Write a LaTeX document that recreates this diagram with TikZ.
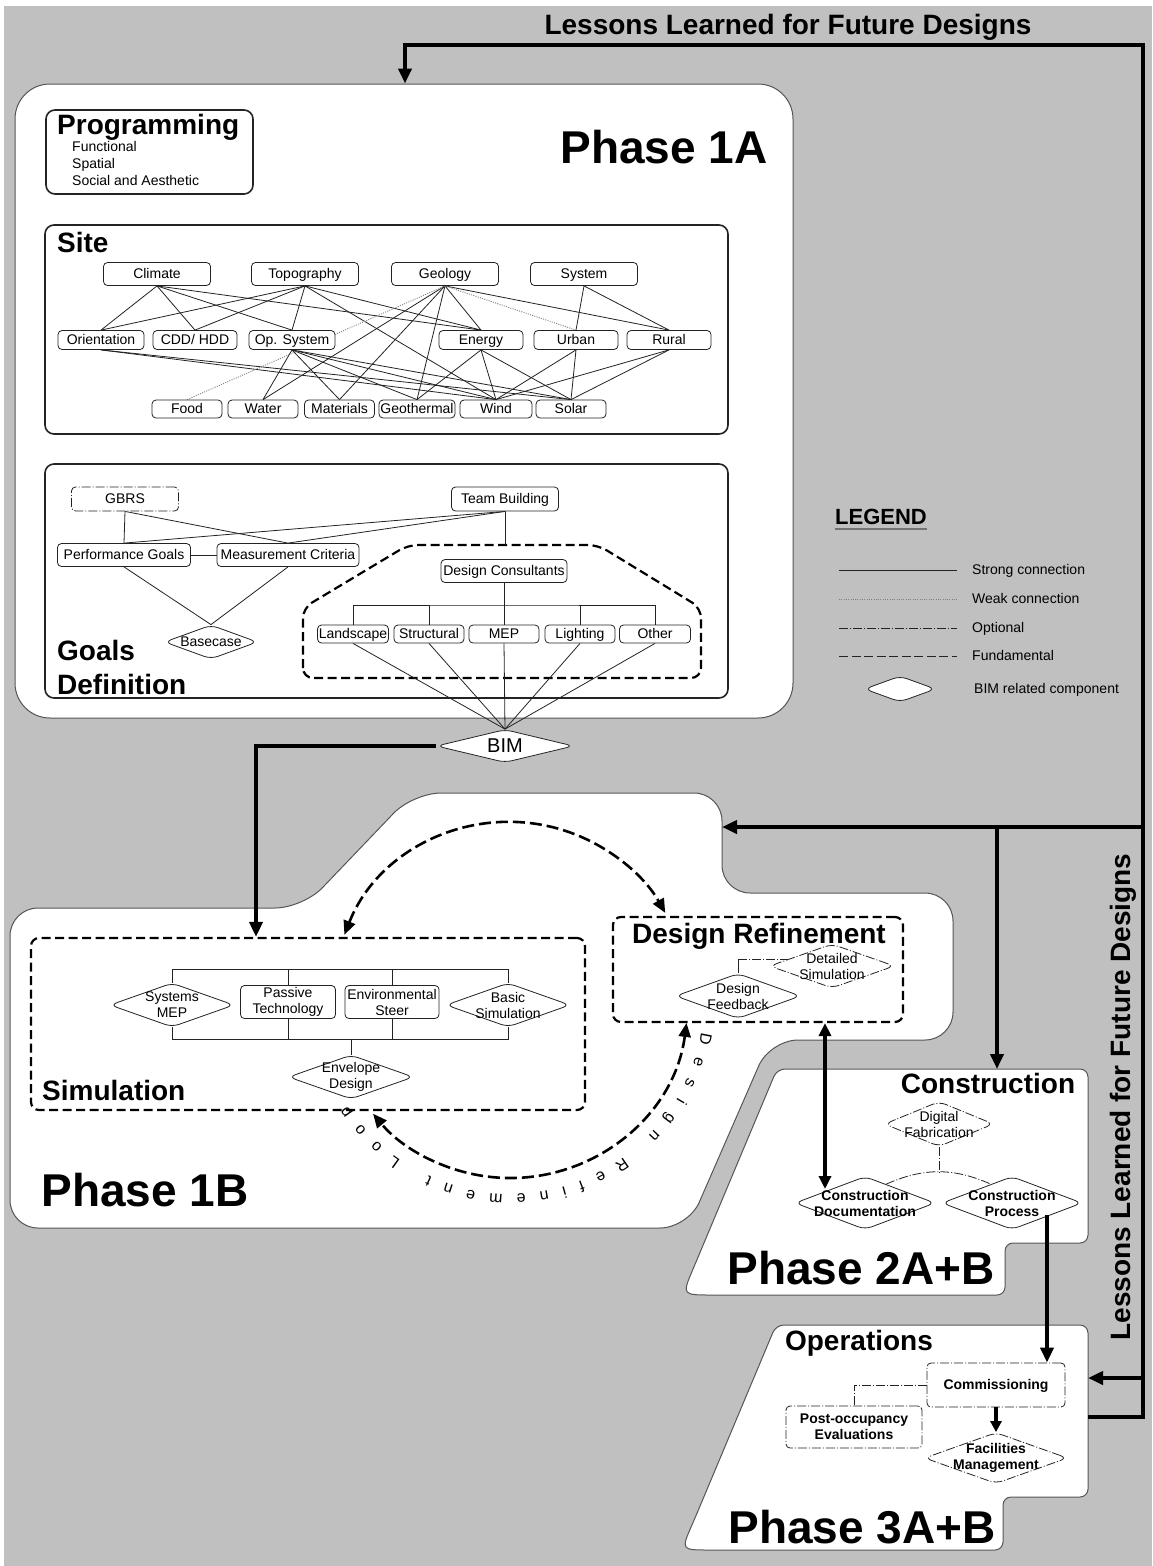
\documentclass[tikz,border=0pt]{standalone}
\usepackage{fontspec}
\setmainfont{Liberation Sans}
\usetikzlibrary{shapes.geometric, arrows.meta, calc, decorations.text}

\definecolor{bggray}{RGB}{192,192,192}
\definecolor{linecol}{RGB}{35,35,35}
\definecolor{edgecol}{RGB}{85,85,85}

\newcommand\txtsm{\fontsize{14}{16}\selectfont}
\newcommand\txtsmb{\fontsize{14}{16}\selectfont\bfseries}
\newcommand\txthead{\fontsize{28}{30}\selectfont\bfseries}
\newcommand\txtphase{\fontsize{46}{50}\selectfont\bfseries}
\newcommand\txtlessons{\fontsize{28}{30}\selectfont\bfseries}
\newcommand\txtloop{\fontsize{16}{18}\selectfont}
\newcommand\txtbim{\fontsize{20}{22}\selectfont}
\newcommand\txtleg{\fontsize{22}{24}\selectfont\bfseries}

\pgfdeclarelayer{back}
\pgfdeclarelayer{mid}
\pgfsetlayers{back,mid,main}

\begin{document}
\begin{tikzpicture}[x=1pt, y=1pt,
  conn/.style={draw=linecol, line width=0.8pt},
  weak/.style={draw=black!50, line width=0.9pt, dash pattern=on 1pt off 1.3pt},
  optional/.style={dash pattern=on 9pt off 2pt on 1pt off 2pt},
  optline/.style={conn, optional},
  fund/.style={draw=black, line width=2.2pt, dash pattern=on 9pt off 4.5pt},
  heavy/.style={draw=black, line width=4pt},
  tip/.style={-{Triangle[length=15pt,width=13pt]}},
  phase/.style={fill=white, draw=edgecol, line width=1pt},
  secbox/.style={draw=linecol, line width=1.6pt, rounded corners=9pt, fill=white},
  itembase/.style={rectangle, rounded corners=4pt, draw=linecol, line width=0.8pt,
    fill=white, inner sep=0pt, align=center, font=\txtsm},
  item/.style={itembase, text height=10pt, text depth=1pt},
  itemtwo/.style={itembase},
  hexlbl/.style={align=center, inner sep=0pt},
  hexa/.style n args={4}{diamond, draw=linecol, line width=0.8pt, fill=white,
    minimum width=#1pt, minimum height=#2pt, inner sep=0pt, rounded corners=7pt,
    label={[hexlbl, font=#4]center:#3}},
  heading/.style={font=\txthead, inner sep=0pt, text height=20pt, text depth=0pt},
  phasetitle/.style={font=\txtphase, inner sep=0pt},
  txt/.style={font=\txtsm, inner sep=0pt, anchor=west, text height=10pt, text depth=1pt},
  looparc/.style={draw=black, line width=2.6pt, dash pattern=on 12pt off 5pt,
    {Triangle[length=14pt,width=12pt]}-{Triangle[length=14pt,width=12pt]}}
]

\useasboundingbox (0,0) rectangle (1152,-1566);

% ---------------- background and phase regions ----------------
\begin{pgfonlayer}{back}
  \fill[white] (0,0) rectangle (1152,-1566);
  \fill[bggray] (4,-6) rectangle (1152,-1566);

  % Phase 1A
  \node[phase, rounded corners=35pt, minimum width=778pt, minimum height=634pt,
        inner sep=0pt] (p1a) at (404,-401) {};

  % Phase 1B
  \path[phase, rounded corners=28pt]
    (10,-1228) -- (10,-908) -- (303,-908) -- (413,-793) -- (722,-793)
    -- (722,-893) -- (953,-893) -- (953,-1040) -- (770,-1040) -- (688,-1228) -- cycle;

  % Phase 2A+B
  \path[phase, rounded corners=8pt]
    (720,-1295) .. controls (682,-1295) .. (696,-1262) -- (777,-1069)
    -- (1088,-1069) -- (1088,-1243) -- (1005,-1243) -- (1005,-1295) -- cycle;

  % Phase 3A+B
  \path[phase, rounded corners=8pt]
    (718,-1550) .. controls (681,-1550) .. (695,-1518) -- (776,-1325)
    -- (1088,-1325) -- (1088,-1497) -- (1003,-1497) -- (1003,-1550) -- cycle;

  % section boxes of Phase 1A
  \node[secbox, minimum width=207pt, minimum height=84pt, inner sep=0pt]
    (prog) at (149.5,-152) {};
  \draw[secbox] (45,-225) rectangle (728,-434);
  \draw[secbox] (45,-464) rectangle (728,-698);
\end{pgfonlayer}

% ---------------- titles ----------------
\node[font=\txtlessons, inner sep=0pt] (lessonstop) at (788,-27) {Lessons Learned for Future Designs};
\node[font=\txtlessons, inner sep=0pt, rotate=90] (lessonsside) at (1123,-1097) {Lessons Learned for Future Designs};

\node[phasetitle] (t1a) at (664,-147) {Phase 1A};
\node[phasetitle] (t1b) at (145,-1190) {Phase 1B};
\node[phasetitle] (t2) at (861,-1268) {Phase 2A+B};
\node[phasetitle] (t3) at (862,-1527) {Phase 3A+B};

% ---------------- Programming ----------------
\node[heading, anchor=west] (progt) at (57,-124) {Programming};
\node[txt] (pf) at (72,-147) {Functional};
\node[txt] (ps) at (72,-164) {Spatial};
\node[txt] (pa) at (72,-181) {Social and Aesthetic};

% ---------------- Site ----------------
\node[heading, anchor=west] (sitet) at (57,-242) {Site};

\node[item, minimum width=107pt, minimum height=23pt] (climate) at (157,-274) {Climate};
\node[item, minimum width=107pt, minimum height=23pt] (topo) at (305,-274) {Topography};
\node[item, minimum width=107pt, minimum height=23pt] (geology) at (445,-274) {Geology};
\node[item, minimum width=107pt, minimum height=23pt] (system) at (584,-274) {System};

\node[item, minimum width=86pt, minimum height=19pt] (orient) at (101,-340) {Orientation};
\node[item, minimum width=84pt, minimum height=19pt] (cdd) at (195,-340) {CDD/ HDD};
\node[item, minimum width=86pt, minimum height=19pt] (opsys) at (292,-340) {Op. System};
\node[item, minimum width=84pt, minimum height=19pt] (energy) at (481,-340) {Energy};
\node[item, minimum width=84pt, minimum height=19pt] (urban) at (576,-340) {Urban};
\node[item, minimum width=84pt, minimum height=19pt] (rural) at (669,-340) {Rural};

\node[item, minimum width=70pt, minimum height=18pt] (food) at (187,-409) {Food};
\node[item, minimum width=70pt, minimum height=18pt] (water) at (263,-409) {Water};
\node[item, minimum width=70pt, minimum height=18pt] (materials) at (339.5,-409) {Materials};
\node[item, minimum width=76pt, minimum height=18pt] (geoth) at (417,-409) {Geothermal};
\node[item, minimum width=72pt, minimum height=18pt] (wind) at (496,-409) {Wind};
\node[item, minimum width=70pt, minimum height=18pt] (solar) at (571,-409) {Solar};

\begin{pgfonlayer}{mid}
  \foreach \a/\b in {climate/orient, climate/cdd, climate/opsys, climate/energy,
      topo/orient, topo/cdd, topo/opsys, topo/energy, topo/wind,
      geology/water, geology/materials, geology/geoth, geology/energy, geology/rural,
      system/urban, system/rural,
      orient/wind, orient/solar,
      opsys/water, opsys/materials, opsys/geoth, opsys/wind, opsys/solar,
      energy/geoth, energy/wind, energy/solar,
      urban/wind, urban/solar, rural/wind, rural/solar}
    \draw[conn] (\a.south) -- (\b.north);
  \draw[weak] (geology.south) -- (food.north);
  \draw[weak] (geology.south) -- (urban.north);
\end{pgfonlayer}

% ---------------- Goals Definition ----------------
\node[heading, anchor=west] (goalst) at (57,-650) {Goals};
\node[heading, anchor=west] (deft) at (57,-684) {Definition};

\node[item, optional, minimum width=107pt, minimum height=24pt] (gbrs) at (125,-499) {GBRS};
\node[item, minimum width=107pt, minimum height=24pt] (team) at (505,-499) {Team Building};
\node[item, minimum width=133pt, minimum height=23pt] (perf) at (124,-555) {Performance Goals};
\node[item, minimum width=142pt, minimum height=23pt] (meas) at (288,-555) {Measurement Criteria};
\node[hexa={93}{34}{Basecase}{\txtsm}] (basecase) at (211,-642) {};
\node[item, minimum width=126pt, minimum height=23pt] (consult) at (504,-571) {Design Consultants};
\node[item, minimum width=71pt, minimum height=18pt] (land) at (353,-634) {Landscape};
\node[item, minimum width=70pt, minimum height=18pt] (struct) at (429,-634) {Structural};
\node[item, minimum width=70pt, minimum height=18pt] (mep) at (504,-634) {MEP};
\node[item, minimum width=70pt, minimum height=18pt] (light) at (580,-634) {Lighting};
\node[item, minimum width=71pt, minimum height=18pt] (other) at (655,-634) {Other};

\node[hexa={137}{33}{BIM}{\txtbim}] (bim) at (505,-746) {};

\coordinate (fundtop) at (505,-545);
\coordinate (cbar) at (504,-605);
\begin{pgfonlayer}{mid}
  \draw[fund, rounded corners=10pt] (303,-678) -- (303,-608) -- (408,-545)
    -- (598,-545) -- (701,-608) -- (701,-678) -- cycle;
  \draw[conn] (gbrs.south) -- (perf.north);
  \draw[conn] (gbrs.south) -- (meas.north);
  \draw[conn] (team.south) -- (perf.north);
  \draw[conn] (team.south) -- (meas.north);
  \draw[conn] (perf.east) -- (meas.west);
  \draw[conn] (perf.south) -- (basecase.north);
  \draw[conn] (meas.south) -- (basecase.north);
  \draw[conn] (team.south) -- (fundtop);
  \draw[conn] (consult.south) -- (mep.north);
  \draw[conn] (land.north) |- (cbar) -| (other.north);
  \draw[conn] (struct.north) -- (struct.north |- cbar);
  \draw[conn] (light.north) -- (light.north |- cbar);
  \foreach \a in {land, struct, mep, light, other}
    \draw[conn] (\a.south) -- (bim.north);
\end{pgfonlayer}

% ---------------- Simulation ----------------
\node[fund, rectangle, rounded corners=8pt, minimum width=554pt, minimum height=172pt,
      inner sep=0pt] (sim) at (308,-1024) {};
\node[heading, anchor=west] (simt) at (42,-1090) {Simulation};

\node[hexa={124}{44}{Systems\\MEP}{\txtsm}] (sysmep) at (172,-1005) {};
\node[itemtwo, minimum width=95pt, minimum height=33pt] (passive) at (288,-1002) {Passive\\Technology};
\node[itemtwo, minimum width=94pt, minimum height=33pt] (envsteer) at (392,-1002) {Environmental\\Steer};
\node[hexa={124}{44}{Basic\\Simulation}{\txtsm}] (basicsim) at (508,-1005) {};
\node[hexa={125}{44}{Envelope\\Design}{\txtsm}] (envelope) at (351,-1077) {};

\coordinate (sbt) at (340,-969);
\coordinate (sbb) at (351,-1039);
\begin{pgfonlayer}{mid}
  \draw[conn] (sysmep.north) |- (sbt) -| (basicsim.north);
  \draw[conn] (passive.north) -- (passive.north |- sbt);
  \draw[conn] (envsteer.north) -- (envsteer.north |- sbt);
  \draw[conn] (sysmep.south) |- (sbb) -| (basicsim.south);
  \draw[conn] (passive.south) -- (passive.south |- sbb);
  \draw[conn] (envsteer.south) -- (envsteer.south |- sbb);
  \draw[conn] (sbb) -- (envelope.north);
\end{pgfonlayer}

% ---------------- Design Refinement ----------------
\node[fund, rectangle, rounded corners=8pt, minimum width=290pt, minimum height=105pt,
      inner sep=0pt] (dr) at (758,-969.5) {};
\node[heading] (drt) at (759,-933) {Design Refinement};
\node[hexa={125}{44}{Detailed\\Simulation}{\txtsm}, optional] (detsim) at (832,-966) {};
\node[hexa={125}{45}{Design\\Feedback}{\txtsm}] (desfeed) at (738,-996) {};

\coordinate (dfk) at (738,-959);
\begin{pgfonlayer}{mid}
  \draw[conn] (desfeed.north) -- (dfk);
  \draw[optline] (dfk) -- (dfk -| detsim.center);
\end{pgfonlayer}

% design refinement loop
\coordinate (loopc) at (510,-1000);
\draw[looparc] ($(loopc)+(158.5:178)$) arc[start angle=158.5, end angle=29.3, radius=178];
\draw[looparc] ($(loopc)+(-7.4:178)$) arc[start angle=-7.4, end angle=-140.3, radius=178];
\path[decorate, decoration={text along path, text={|\txtloop|Design Refinement Loop},
      text align=fit to path}]
  ($(loopc)+(-9.5:194)$) arc[start angle=-9.5, end angle=-147, radius=194];

% ---------------- Construction ----------------
\node[heading] (constt) at (988,-1083) {Construction};
\node[hexa={109}{45}{Digital\\Fabrication}{\txtsm}, optional] (digfab) at (939,-1124) {};
\node[hexa={140}{53}{Construction\\Documentation}{\txtsmb}] (cdoc) at (865,-1203) {};
\node[hexa={140}{53}{Construction\\Process}{\txtsmb}] (cproc) at (1012,-1203) {};

\coordinate (junc) at (939,-1172);
\begin{pgfonlayer}{mid}
  \draw[optline] (digfab.south) -- (junc);
  \draw[optline] ($(cdoc.north)!0.3!(cdoc.east)$) to[bend left=24]
                 ($(cproc.north)!0.3!(cproc.west)$);
\end{pgfonlayer}

% ---------------- Operations ----------------
\node[heading] (opt) at (859,-1340) {Operations};
\node[item, optional, font=\txtsmb, minimum width=138pt, minimum height=44pt] (comm) at (996,-1385) {Commissioning};
\node[itemtwo, optional, font=\txtsmb, minimum width=136pt, minimum height=42pt] (poe) at (854,-1427) {Post-occupancy\\Evaluations};
\node[hexa={143}{51}{Facilities\\Management}{\txtsmb}, optional] (facman) at (996,-1458) {};

\begin{pgfonlayer}{mid}
  \draw[optline] (comm.west) -| (poe.north);
\end{pgfonlayer}

% ---------------- heavy flow arrows ----------------
\coordinate (bimk) at (256,-746);
\draw[heavy, tip] (bim.west) -- (bimk) -- (bimk |- sim.north);

\coordinate (drx) at (825,-1189);
\draw[heavy, {Triangle[length=13pt,width=12pt]}-{Triangle[length=13pt,width=12pt]}]
  (drx |- dr.south) -- (drx);

\coordinate (cpx) at (1047,-1215);
\draw[heavy, tip] (cpx) -- (cpx |- comm.north);
\draw[heavy, line width=3.5pt, -{Triangle[length=11pt,width=11pt]}] (comm.south) -- (facman.north);

% lessons learned feedback
\coordinate (p3e) at (1088,-1417);
\coordinate (lb) at (1143,-1417);
\coordinate (lt) at (1143,-45);
\coordinate (ltl) at (405,-45);
\coordinate (lc) at (1143,-827);
\coordinate (notch) at (722,-827);
\coordinate (lcx) at (997,-827);
\coordinate (p2top) at (997,-1069);
\coordinate (l3) at (1143,-1378);
\draw[heavy, tip] (p3e) -- (lb) -- (lt) -- (ltl) -- (ltl |- p1a.north);
\draw[heavy, tip] (lc) -- (notch);
\draw[heavy, tip] (lcx) -- (p2top);
\draw[heavy, tip] (l3) -- (l3 -| p3e);

% ---------------- legend ----------------
\node[font=\txtleg, inner sep=0pt, anchor=west] (legt) at (835,-517) {LEGEND};
\draw[draw=black!55, line width=1.4pt] ([yshift=-4pt]legt.south west) -- ([yshift=-4pt]legt.south east);
\draw[conn] (839,-570) -- (957,-570);
\draw[weak] (839,-599) -- (957,-599);
\draw[optline] (839,-628) -- (957,-628);
\draw[conn, dash pattern=on 9pt off 3.5pt] (839,-656) -- (957,-656);
\node[hexa={71}{26}{}{\txtsm}] (leghex) at (900,-689) {};
\node[txt] (lg1) at (972,-570) {Strong connection};
\node[txt] (lg2) at (972,-599) {Weak connection};
\node[txt] (lg3) at (972,-628) {Optional};
\node[txt] (lg4) at (972,-656) {Fundamental};
\node[txt] (lg5) at (974,-689) {BIM related component};

\end{tikzpicture}
\end{document}
